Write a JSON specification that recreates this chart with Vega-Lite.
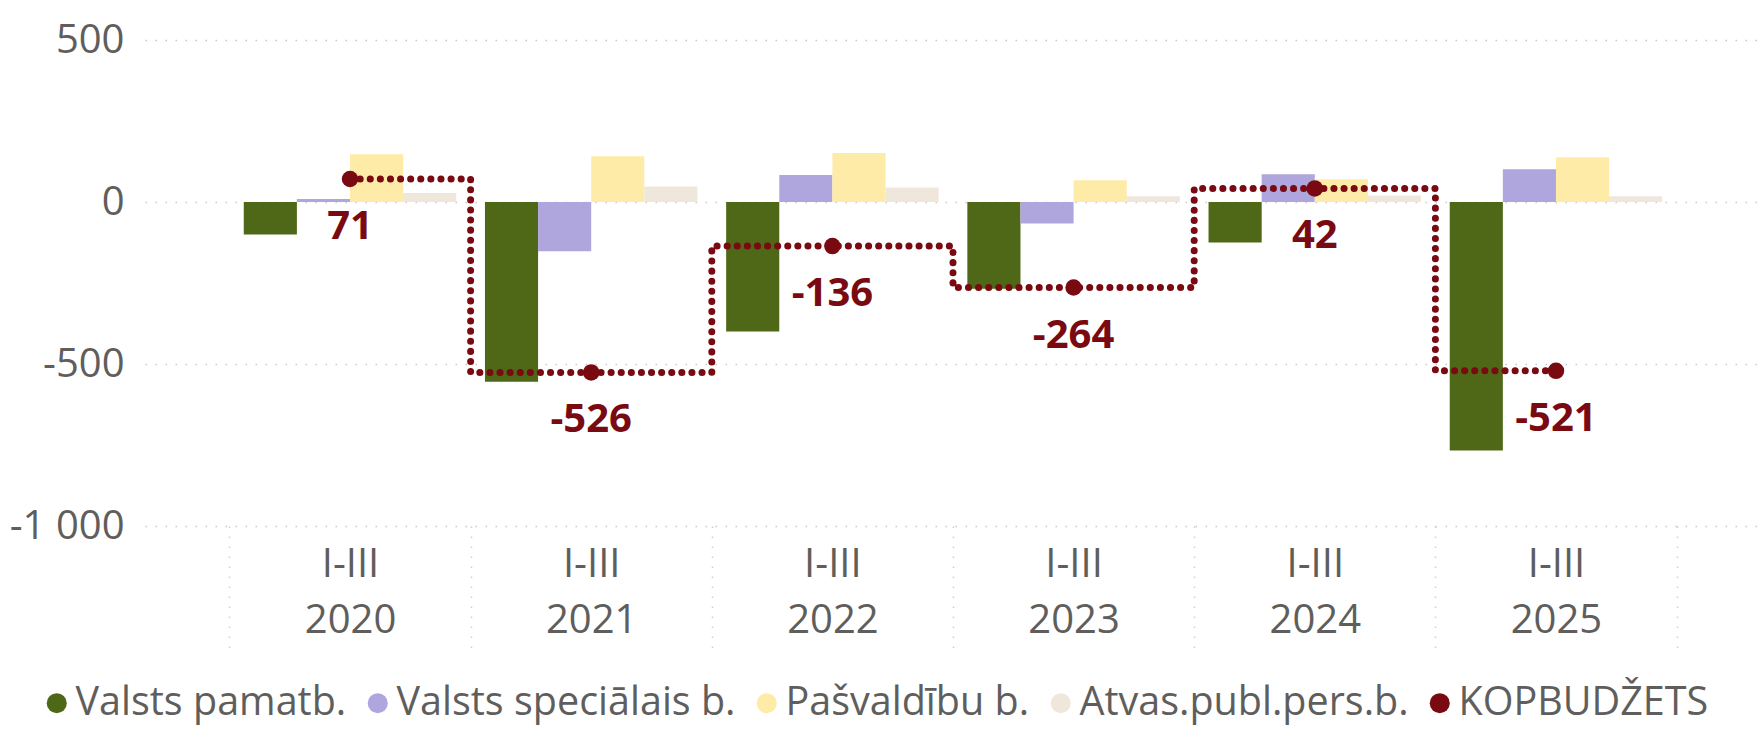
{
  "$schema": "https://vega.github.io/schema/vega-lite/v6.json",
  "width": 1616,
  "height": 486,
  "autosize": {"type": "none"},
  "padding": {"left": 145, "top": 40, "right": 0, "bottom": 215},
  "background": "white",
  "data": {"values": [
    {"period": "I-III|2020", "series": "Valsts pamatb.", "value": -100},
    {"period": "I-III|2020", "series": "Valsts speciālais b.", "value": 9},
    {"period": "I-III|2020", "series": "Pašvaldību b.", "value": 147},
    {"period": "I-III|2020", "series": "Atvas.publ.pers.b.", "value": 28},
    {"period": "I-III|2020", "series": "KOPBUDŽETS", "value": 71},
    {"period": "I-III|2021", "series": "Valsts pamatb.", "value": -555},
    {"period": "I-III|2021", "series": "Valsts speciālais b.", "value": -152},
    {"period": "I-III|2021", "series": "Pašvaldību b.", "value": 141},
    {"period": "I-III|2021", "series": "Atvas.publ.pers.b.", "value": 48},
    {"period": "I-III|2021", "series": "KOPBUDŽETS", "value": -526},
    {"period": "I-III|2022", "series": "Valsts pamatb.", "value": -400},
    {"period": "I-III|2022", "series": "Valsts speciālais b.", "value": 83},
    {"period": "I-III|2022", "series": "Pašvaldību b.", "value": 151},
    {"period": "I-III|2022", "series": "Atvas.publ.pers.b.", "value": 45},
    {"period": "I-III|2022", "series": "KOPBUDŽETS", "value": -136},
    {"period": "I-III|2023", "series": "Valsts pamatb.", "value": -268},
    {"period": "I-III|2023", "series": "Valsts speciālais b.", "value": -66},
    {"period": "I-III|2023", "series": "Pašvaldību b.", "value": 67},
    {"period": "I-III|2023", "series": "Atvas.publ.pers.b.", "value": 18},
    {"period": "I-III|2023", "series": "KOPBUDŽETS", "value": -264},
    {"period": "I-III|2024", "series": "Valsts pamatb.", "value": -125},
    {"period": "I-III|2024", "series": "Valsts speciālais b.", "value": 86},
    {"period": "I-III|2024", "series": "Pašvaldību b.", "value": 70},
    {"period": "I-III|2024", "series": "Atvas.publ.pers.b.", "value": 20},
    {"period": "I-III|2024", "series": "KOPBUDŽETS", "value": 42},
    {"period": "I-III|2025", "series": "Valsts pamatb.", "value": -767},
    {"period": "I-III|2025", "series": "Valsts speciālais b.", "value": 101},
    {"period": "I-III|2025", "series": "Pašvaldību b.", "value": 138},
    {"period": "I-III|2025", "series": "Atvas.publ.pers.b.", "value": 18},
    {"period": "I-III|2025", "series": "KOPBUDŽETS", "value": -521}
  ]},
  "encoding": {
    "x": {
      "field": "period", "type": "nominal", "sort": null,
      "scale": {"paddingInner": 0, "paddingOuter": 0.35},
      "axis": {
        "title": null, "labelAngle": 0, "labelExpr": "split(datum.label, '|')",
        "labelFont": "Open Sans", "labelFontSize": 40, "labelLineHeight": 56,
        "labelColor": "#605E5C", "labelBaseline": "top",
        "tickBand": "extent", "tickSize": 125, "tickColor": "#CFCFCF",
        "tickDash": [1.5, 8.5], "tickWidth": 1.5, "labelPadding": -107,
        "domain": false, "grid": false
      }
    },
    "y": {
      "field": "value", "type": "quantitative",
      "scale": {"domain": [-1000, 500], "nice": false, "zero": true},
      "axis": {
        "title": null, "values": [-1000, -500, 0, 500],
        "labelExpr": "replace(replace(format(datum.value, ',d'), ',', ' '), '\u2212', '-')",
        "labelFont": "Open Sans", "labelFontSize": 40, "labelColor": "#605E5C",
        "labelPadding": 21, "ticks": false, "domain": false,
        "grid": true, "gridDash": [1.5, 8.5], "gridColor": "#C8C8C8", "gridWidth": 1.5
      }
    }
  },
  "layer": [
    {
      "transform": [{"filter": "datum.series !== 'KOPBUDŽETS'"}],
      "mark": {"type": "bar"},
      "encoding": {
        "xOffset": {
          "field": "series", "type": "nominal",
          "sort": ["Valsts pamatb.", "Valsts speciālais b.", "Pašvaldību b.", "Atvas.publ.pers.b."],
          "scale": {"paddingInner": 0, "paddingOuter": 0.27}
        },
        "color": {
          "field": "series", "type": "nominal",
          "scale": {
            "domain": ["Valsts pamatb.", "Valsts speciālais b.", "Pašvaldību b.", "Atvas.publ.pers.b.", "KOPBUDŽETS"],
            "range": ["#4E6817", "#AFA6DE", "#FFEBA8", "#F0E7DC", "#7A0A11"]
          },
          "legend": {
            "title": null, "orient": "none", "direction": "horizontal",
            "legendX": -108, "legendY": 643,
            "symbolType": "circle", "symbolSize": 400, "symbolStrokeWidth": 0, "symbolOffset": 0,
            "labelFont": "Open Sans", "labelFontSize": 39.5, "labelColor": "#605E5C",
            "labelOffset": -1, "columnPadding": 11, "labelLimit": 0
          }
        }
      }
    },
    {
      "transform": [{"filter": "datum.series === 'KOPBUDŽETS'"}],
      "mark": {"type": "line", "interpolate": "step", "strokeDash": [0.1, 10], "strokeCap": "round", "strokeWidth": 7, "color": "#7A0A11"},
      "encoding": {}
    },
    {
      "transform": [{"filter": "datum.series === 'KOPBUDŽETS'"}],
      "mark": {"type": "point", "filled": true, "size": 272, "opacity": 1, "shape": "circle", "color": "#7A0A11"},
      "encoding": {}
    },
    {
      "transform": [{"filter": "datum.series === 'KOPBUDŽETS'"}],
      "mark": {"type": "text", "font": "Open Sans", "fontSize": 40, "fontWeight": "bold", "baseline": "alphabetic", "align": "center", "dy": 60, "color": "#7A0A11"},
      "encoding": {
        "text": {"field": "value", "type": "quantitative"}
      }
    }
  ],
  "config": {
    "view": {"stroke": null},
    "locale": {"number": {"decimal": ".", "thousands": ",", "grouping": [3], "currency": ["", ""], "minus": "-"}}
  }
}
